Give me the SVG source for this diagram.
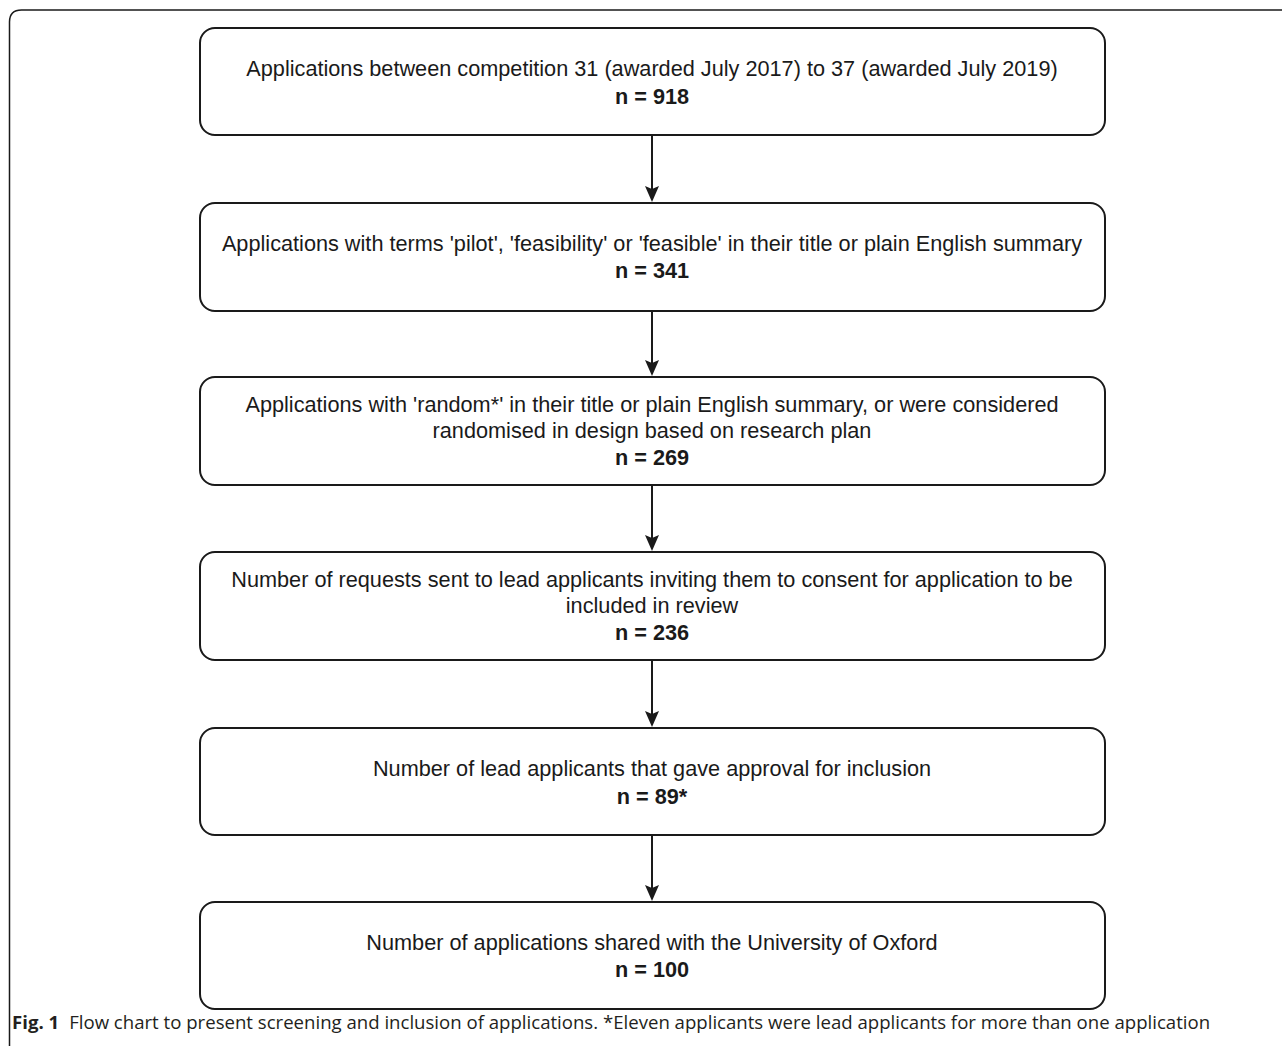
<svg xmlns="http://www.w3.org/2000/svg" width="1282" height="1046" viewBox="0 0 1282 1046">
<defs>
<style>
.box{fill:#fff;stroke:#1a1a1a;stroke-width:2}
.t{font-family:"Liberation Sans",Arial,sans-serif;font-size:21.7px;fill:#1a1a1a;text-anchor:middle}
.b{font-weight:bold}
.c{stroke:#1a1a1a;stroke-width:2;fill:none}
.cap{font-family:"Open Sans","Noto Sans",sans-serif;font-size:18.6px;fill:#231f20}
</style>
</defs>
<rect width="1282" height="1046" fill="#fff"/>
<path d="M9.5 1046 V22 Q9.5 10 21.5 10 H1282" fill="none" stroke="#1a1a1a" stroke-width="1.5"/>
<g id="connectors">
<path class="c" d="M652 136 V195"/>
<path d="M645 186 L652 189 L659 186 L652 202 Z" fill="#1a1a1a"/>
<path class="c" d="M652 311 V369"/>
<path d="M645 360 L652 363 L659 360 L652 376 Z" fill="#1a1a1a"/>
<path class="c" d="M652 485 V544"/>
<path d="M645 535 L652 538 L659 535 L652 551 Z" fill="#1a1a1a"/>
<path class="c" d="M652 660 V720"/>
<path d="M645 711 L652 714 L659 711 L652 727 Z" fill="#1a1a1a"/>
<path class="c" d="M652 835 V894"/>
<path d="M645 885 L652 888 L659 885 L652 901 Z" fill="#1a1a1a"/>
</g>
<g id="n1">
<rect class="box" x="200" y="28" width="905" height="107" rx="15"/>
<text class="t" x="652" y="76">Applications between competition 31 (awarded July 2017) to 37 (awarded July 2019)</text>
<text class="t b" x="652" y="104">n = 918</text>
</g>
<g id="n2">
<rect class="box" x="200" y="203" width="905" height="108" rx="15"/>
<text class="t" x="652" y="251">Applications with terms 'pilot', 'feasibility' or 'feasible' in their title or plain English summary</text>
<text class="t b" x="652" y="278">n = 341</text>
</g>
<g id="n3">
<rect class="box" x="200" y="377" width="905" height="108" rx="15"/>
<text class="t" x="652" y="412">Applications with 'random*' in their title or plain English summary, or were considered</text>
<text class="t" x="652" y="438">randomised in design based on research plan</text>
<text class="t b" x="652" y="465">n = 269</text>
</g>
<g id="n4">
<rect class="box" x="200" y="552" width="905" height="108" rx="15"/>
<text class="t" x="652" y="587">Number of requests sent to lead applicants inviting them to consent for application to be</text>
<text class="t" x="652" y="613">included in review</text>
<text class="t b" x="652" y="640">n = 236</text>
</g>
<g id="n5">
<rect class="box" x="200" y="728" width="905" height="107" rx="15"/>
<text class="t" x="652" y="776">Number of lead applicants that gave approval for inclusion</text>
<text class="t b" x="652" y="804">n = 89*</text>
</g>
<g id="n6">
<rect class="box" x="200" y="902" width="905" height="107" rx="15"/>
<text class="t" x="652" y="950">Number of applications shared with the University of Oxford</text>
<text class="t b" x="652" y="977">n = 100</text>
</g>
<text class="cap" x="12" y="1029"><tspan font-weight="bold">Fig. 1</tspan><tspan dx="10">Flow chart to present screening and inclusion of applications. *Eleven applicants were lead applicants for more than one application</tspan></text>
</svg>
